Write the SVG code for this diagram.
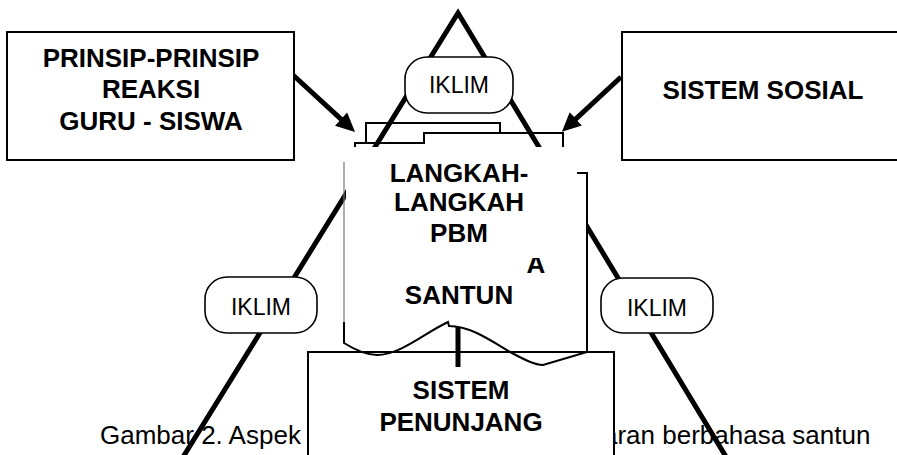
<svg xmlns="http://www.w3.org/2000/svg" width="897" height="455" viewBox="0 0 897 455">
<style>
.b{font-family:"Liberation Sans",Arial,sans-serif;font-weight:bold;font-size:26px;fill:#000;text-anchor:middle}
.r{font-family:"Liberation Sans",Arial,sans-serif;font-size:23px;fill:#000;text-anchor:middle}
.cap{font-family:"Liberation Sans",Arial,sans-serif;font-size:26px;fill:#000}
.box{fill:#fff;stroke:#000;stroke-width:2}
.pill{fill:#fff;stroke:#000;stroke-width:1.6}
.thin{fill:none;stroke:#000;stroke-width:2}
.leg{fill:none;stroke:#000;stroke-width:5;stroke-linejoin:miter}
.arr{fill:none;stroke:#000;stroke-width:5}
</style>
<defs>
<marker id="ah" viewBox="0 0 20 20" markerWidth="20" markerHeight="20" refX="1" refY="10" orient="auto" markerUnits="userSpaceOnUse"><path d="M0,1 L19,10 L0,19 z" fill="#000"/></marker>
<clipPath id="clipA"><rect x="515" y="258" width="45" height="30"/></clipPath>
</defs>
<rect width="897" height="455" fill="#fff"/>
<text class="cap" x="100" y="444">Gambar 2. Aspek</text>
<text class="cap" x="603" y="444">aran berbahasa santun</text>
<g id="node-sistem-penunjang">
<rect class="box" x="308" y="352" width="306" height="110"/>
<text class="b" x="461" y="399">SISTEM</text>
<text class="b" x="461" y="431">PENUNJANG</text>
</g>
<g id="node-stack-back">
<path class="thin" d="M366,144 V123 H500 V133 M424,144 V133 H563 V148 M355,148 V143 H424"/>
</g>
<g id="connectors">
<path class="leg" d="M175,470 L458,13 L734,470"/>
<path class="arr" d="M293,75 L341.8,119.8" marker-end="url(#ah)"/>
<path class="arr" d="M621,77 L575.1,119.6" marker-end="url(#ah)"/>
<path class="arr" d="M458,327 V367"/>
</g>
<g id="node-langkah">
<path fill="#fff" d="M346,147 H578 V174 H586 V350 H461 V326 H455 V350 H346 Z"/>
<text class="b" x="459" y="182">LANGKAH-</text>
<text class="b" x="459" y="211">LANGKAH</text>
<text class="b" x="459" y="242">PBM</text>
<text class="b" x="459" y="304">SANTUN</text>
<text class="b" x="536" y="273" clip-path="url(#clipA)">A</text>
<path d="M344,162 V323" fill="none" stroke="#777" stroke-width="1.2"/>
<path class="thin" d="M344,322 V343 C352,348 364,355 377,355 C400,355 425,333 446,323 L448,322 L449,326 C470,326 490,340 510,352 C525,360 535,365 543,365 L587,352 V173 H577"/>
</g>
<g id="node-iklim-top">
<rect class="pill" x="405" y="57" width="108" height="56" rx="22"/>
<text class="r" x="459" y="93">IKLIM</text>
</g>
<g id="node-iklim-left">
<rect class="pill" x="205" y="277" width="112" height="56" rx="22"/>
<text class="r" x="261" y="315">IKLIM</text>
</g>
<g id="node-iklim-right">
<rect class="pill" x="601" y="278" width="112" height="55" rx="22"/>
<text class="r" x="657" y="316">IKLIM</text>
</g>
<g id="node-prinsip">
<rect class="box" x="7" y="32" width="287" height="128"/>
<text class="b" x="151" y="67">PRINSIP-PRINSIP</text>
<text class="b" x="151" y="98">REAKSI</text>
<text class="b" x="151" y="130">GURU - SISWA</text>
</g>
<g id="node-sistem-sosial">
<rect class="box" x="622" y="32" width="290" height="128"/>
<text class="b" x="763" y="99">SISTEM SOSIAL</text>
</g>
</svg>
